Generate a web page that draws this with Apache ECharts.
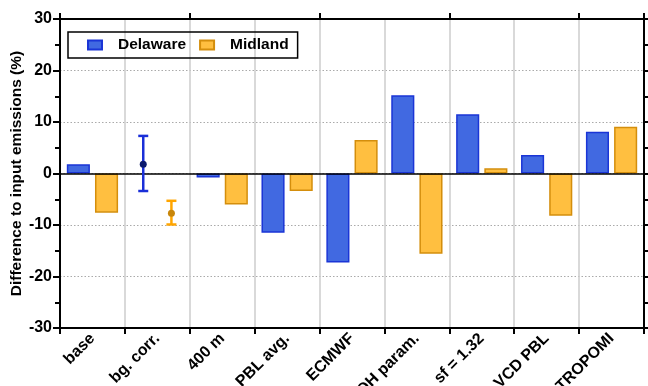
<!DOCTYPE html>
<html>
<head>
<meta charset="utf-8">
<script src="https://cdn.jsdelivr.net/npm/echarts@6/dist/echarts.min.js"></script>
<style>
  html, body { margin: 0; padding: 0; background: #fff; }
  #chart { width: 648px; height: 386px; }
</style>
</head>
<body>
<div id="chart"></div>
<script>
// Scenario labels along the x axis
const categories = ['base', 'bg. corr.', '400 m', 'PBL avg.', 'ECMWF', 'OH param.', 'sf = 1.32', 'VCD PBL', 'TROPOMI'];

// Difference to input emissions (%) per scenario; the bg. corr. case is shown as an error bar
const delaware = [1.8, null, -0.8, -11.5, -17.3, 15.2, 11.5, 3.6, 8.1];
const midland  = [-7.6, null, -6.0, -3.4, 6.5, -15.6, 1.0, -8.2, 9.1];

// bg. corr. scenario: [category index, mean, low, high]
const bgCorrDelaware = [[1, 1.8, -3.4, 7.3]];
const bgCorrMidland  = [[1, -7.7, -9.9, -5.3]];

// Y axis ticks
const yMin = -30, yMax = 30, yStep = 10;

const CAT_GAP = 0.21, BAR_GAP = 0.22;
const FONT = 'Liberation Sans, Arial, sans-serif';

function errorBar(side, lineColor, dotColor) {
  return function (params, api) {
    const band = api.size([1, 0])[0];
    const barW = band * (1 - CAT_GAP) / (2 + BAR_GAP);
    const off = side * (barW * (1 + BAR_GAP)) / 2;
    const idx = api.value(0);
    const mid = api.coord([idx, api.value(1)]);
    const lo = api.coord([idx, api.value(2)]);
    const hi = api.coord([idx, api.value(3)]);
    const x = mid[0] + off;
    const cap = 5;
    const ls = { stroke: lineColor, lineWidth: 2.5 };
    return {
      type: 'group',
      children: [
        { type: 'line', shape: { x1: x, y1: lo[1], x2: x, y2: hi[1] }, style: ls },
        { type: 'line', shape: { x1: x - cap, y1: lo[1], x2: x + cap, y2: lo[1] }, style: ls },
        { type: 'line', shape: { x1: x - cap, y1: hi[1], x2: x + cap, y2: hi[1] }, style: ls },
        { type: 'circle', shape: { cx: x, cy: mid[1], r: 3.5 }, style: { fill: dotColor } }
      ]
    };
  };
}

const chart = echarts.init(document.getElementById('chart'), null, { renderer: 'canvas' });

const axisLine = { show: true, lineStyle: { color: '#000', width: 2 } };

chart.setOption({
  animation: false,
  textStyle: { fontFamily: FONT },
  grid: { left: 60, right: 4, top: 19, bottom: 58, containLabel: false, outerBoundsMode: 'none' },
  legend: {
    left: 68, top: 32,
    orient: 'horizontal',
    padding: [5, 9, 5, 19],
    borderColor: '#000', borderWidth: 1.5,
    icon: 'rect',
    itemWidth: 14, itemHeight: 9, itemGap: 13,
    textStyle: { fontFamily: FONT, fontWeight: 'bold', fontSize: 15.5, color: '#000', padding: [0, 0, 0, 11] },
    data: ['Delaware', 'Midland']
  },
  xAxis: [
    {
      type: 'category', data: categories, position: 'bottom',
      axisLine: { ...axisLine, onZero: false },
      axisTick: { show: true, length: 6, lineStyle: { color: '#000', width: 2 } },
      axisLabel: { rotate: 45, margin: 8, fontFamily: FONT, fontWeight: 'bold', fontSize: 16, color: '#000', interval: 0 },
      splitLine: { show: true, lineStyle: { color: '#cccccc', width: 1.5 } }
    },
    {
      type: 'category', data: categories, position: 'top',
      axisLine: { ...axisLine, onZero: false },
      axisTick: { show: true, length: 6, lineStyle: { color: '#000', width: 2 } },
      axisLabel: { show: false },
      splitLine: { show: false }
    }
  ],
  yAxis: [
    {
      type: 'value', min: yMin, max: yMax, interval: yStep, position: 'left',
      name: 'Difference to input emissions (%)',
      nameLocation: 'middle', nameGap: 35, nameMoveOverlap: false,
      nameTextStyle: { fontFamily: FONT, fontWeight: 'bold', fontSize: 15.5, color: '#000' },
      axisLine: axisLine,
      axisTick: { show: true, length: 7, lineStyle: { color: '#000', width: 2 } },
      minorTick: { show: true, splitNumber: 2, length: 5, lineStyle: { color: '#000', width: 2 } },
      axisLabel: { margin: 8, fontFamily: FONT, fontWeight: 'bold', fontSize: 16, color: '#000' },
      splitLine: { show: true, lineStyle: { color: '#aaaaaa', width: 1, type: [1.5, 2] } }
    },
    {
      type: 'value', min: yMin, max: yMax, interval: yStep, position: 'right',
      axisLine: axisLine,
      axisTick: { show: true, length: 6, lineStyle: { color: '#000', width: 2 } },
      minorTick: { show: true, splitNumber: 2, length: 4, lineStyle: { color: '#000', width: 2 } },
      axisLabel: { show: false },
      splitLine: { show: false }
    }
  ],
  series: [
    {
      name: 'Delaware', type: 'bar', data: delaware,
      barCategoryGap: (CAT_GAP * 100) + '%', barGap: (BAR_GAP * 100) + '%',
      itemStyle: { color: '#4169e1', borderColor: '#1a35d6', borderWidth: 1.5 },
      markLine: {
        silent: true, symbol: 'none', label: { show: false },
        lineStyle: { color: '#000', width: 1.5, type: 'solid' },
        data: [{ yAxis: 0 }]
      },
      z: 3
    },
    {
      name: 'Midland', type: 'bar', data: midland,
      itemStyle: { color: '#ffbf40', borderColor: '#d48e0c', borderWidth: 1.5 },
      z: 3
    },
    {
      name: 'Delaware bg', type: 'custom', data: bgCorrDelaware,
      encode: { x: 0, y: [1, 2, 3] },
      renderItem: errorBar(-1, '#1a2fd8', '#0b1a6e'),
      z: 5
    },
    {
      name: 'Midland bg', type: 'custom', data: bgCorrMidland,
      encode: { x: 0, y: [1, 2, 3] },
      renderItem: errorBar(1, '#ffa500', '#c8860a'),
      z: 5
    }
  ]
});
</script>
</body>
</html>
